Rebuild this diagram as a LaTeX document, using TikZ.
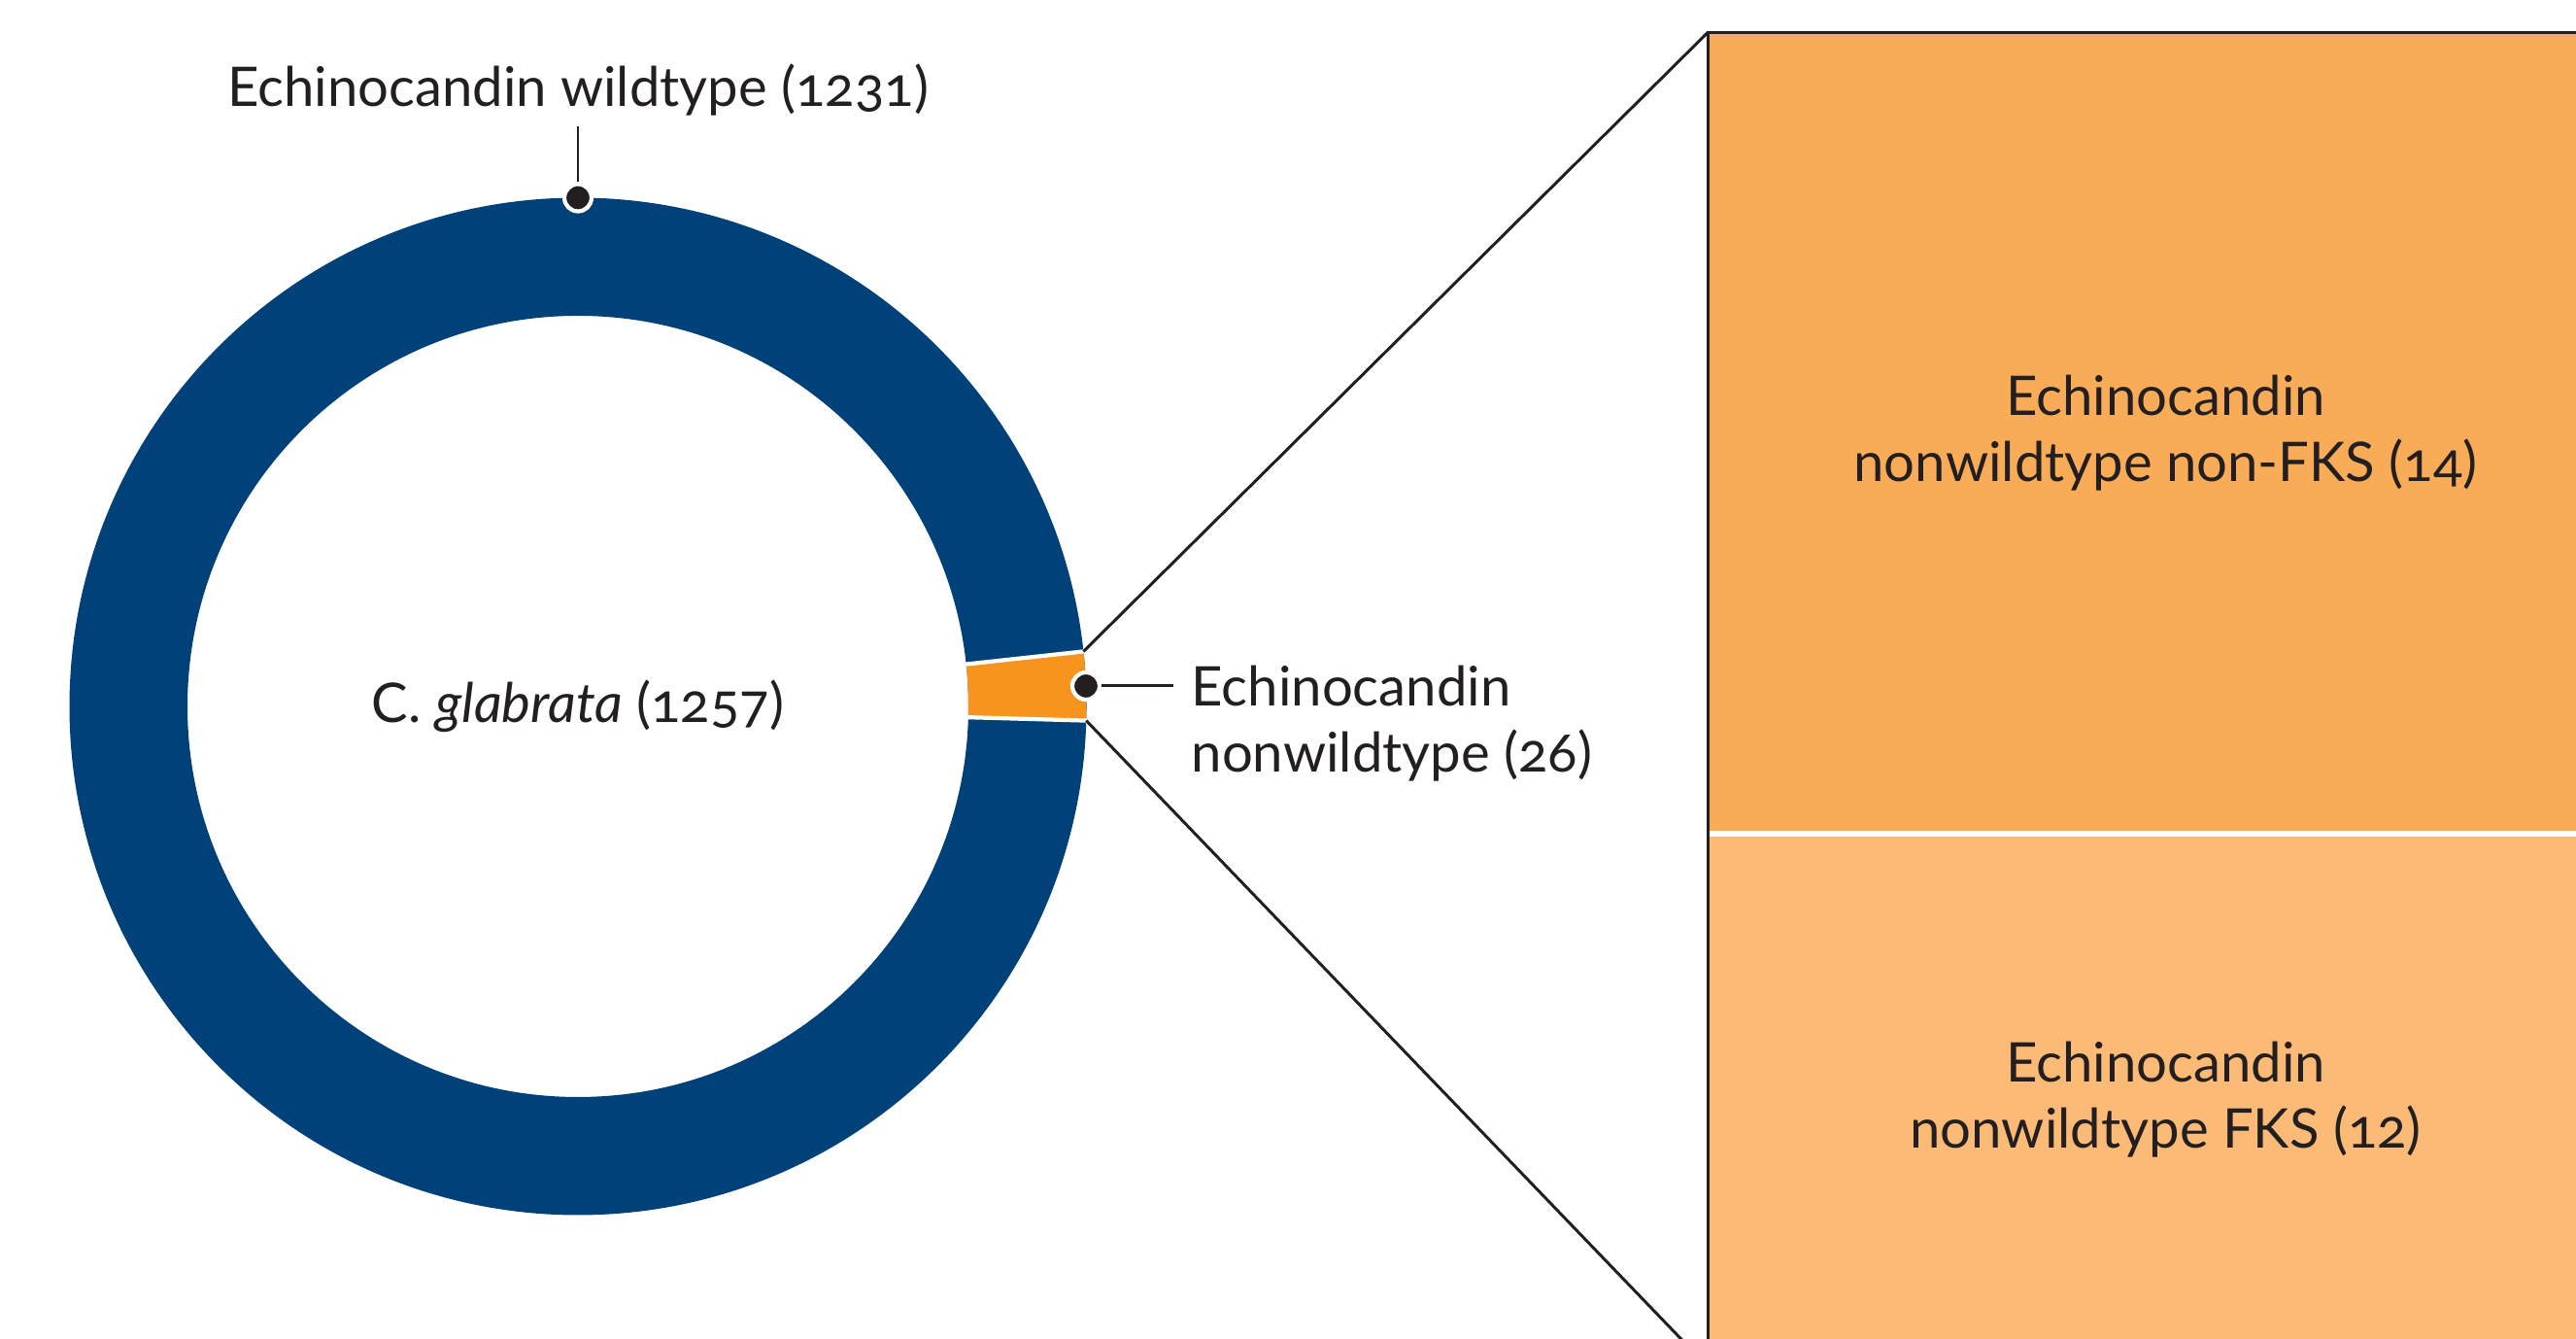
\documentclass[tikz,border=0pt]{standalone}
\usepackage{fontspec}
\setmainfont{Lato}[Numbers=OldStyle]
\usetikzlibrary{positioning}

\definecolor{ink}{RGB}{35,31,32}
\definecolor{wtblue}{RGB}{0,65,122}
\definecolor{nwtorange}{RGB}{247,148,30}
\definecolor{nonfksfill}{RGB}{248,172,87}
\definecolor{fksfill}{RGB}{251,187,119}

\begin{document}
\begin{tikzpicture}[
    lbl/.style={font=\fontsize{16}{19.4}\selectfont, text=ink, inner sep=0pt},
    dot/.style={circle, fill=ink, draw=white, line width=1.2pt, minimum size=2.8mm, inner sep=0pt},
    leader/.style={draw=ink, line width=0.85pt},
    cell/.style={rectangle, minimum width=9.41cm, inner sep=0pt, align=center, font=\fontsize{16}{19.4}\selectfont, text=ink},
    gap/.style={draw=white, line width=1.2pt}
]
\useasboundingbox (0,0) rectangle (26.52,13.78);
\clip (0,0) rectangle (26.52,13.78);

% Кольцо
\begin{scope}[shift={(5.95,6.51)}]
\fill[wtblue, even odd rule] (0,0) circle (5.235) (0,0) circle (4.02);
\fill[nwtorange] (-1.6:4.02) arc (-1.6:6.2:4.02) -- (6.2:5.235) arc (6.2:-1.6:5.235) -- cycle;
\draw[gap] (6.2:3.95) -- (6.2:5.3);
\draw[gap] (-1.6:3.95) -- (-1.6:5.3);
\coordinate (segtop) at (6.2:5.235);
\coordinate (segbot) at (-1.6:5.235);
\end{scope}

\node[lbl] (total) at (5.95,6.51) {C. \textit{glabrata} (1257)};

% Метки кольца
\node[dot] (wtdot) at (5.95,11.745) {};
\node[lbl, inner sep=1mm] (wtlabel) at (5.95,12.85) {Echinocandin wildtype (1231)};
\draw[leader] (wtdot) -- (wtlabel.south);

\node[dot] (nwtdot) at (11.18,6.72) {};
\coordinate (nwtend) at (12.08,6.72);
\node[lbl, align=left, anchor=west] (nwtlabel) at (12.26,6.33) {Echinocandin\\nonwildtype (26)};
\draw[leader] (nwtdot) -- (nwtend);

% Ячейки
\node[cell, fill=nonfksfill, minimum height=8.235cm] (nonfks) at (22.295,9.3225)
    {Echinocandin\\nonwildtype non-FKS (14)};
\node[cell, fill=fksfill, minimum height=5.485cm] (fks) at (22.295,2.4625)
    {Echinocandin\\nonwildtype FKS (12)};
\draw[white, line width=1.7pt] (nonfks.south west) -- (nonfks.south east);
\draw[leader] (fks.south west) -- (nonfks.north west) -- (nonfks.north east);

% Линии выноски
\draw[leader] (segtop) -- (nonfks.north west);
\draw[leader] (segbot) -- (fks.south west);
\end{tikzpicture}
\end{document}
